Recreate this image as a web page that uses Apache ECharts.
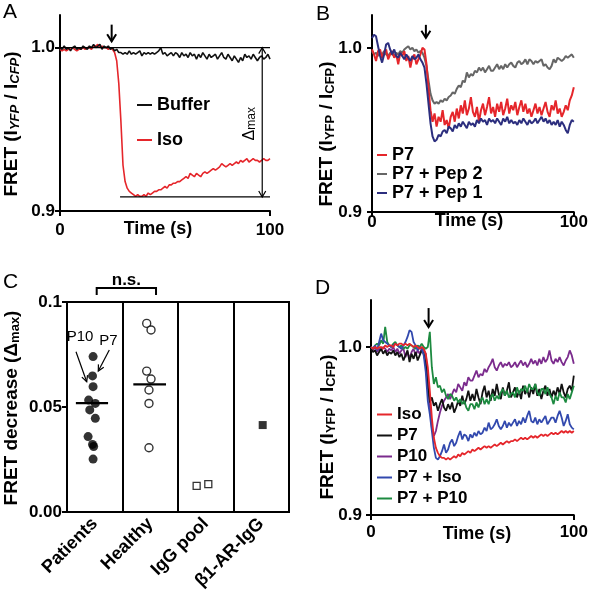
<!DOCTYPE html>
<html><head><meta charset="utf-8">
<script src="https://cdn.jsdelivr.net/npm/echarts@6/dist/echarts.min.js"></script>
<style>html,body{margin:0;padding:0;background:#fff}#c{width:591px;height:594px}</style>
</head><body><div id="c"></div>
<script>
const FONT = 'Liberation Sans, Arial, Helvetica, sans-serif';

// ---------- shared sampling grid (s) ----------
const TIME = [0,1,2,3,4,5,6,7,8,9,10,11,12,13,14,15,16,17,18,19,20,21,22,23,24,25,26,27,28,29,30,31,32,33,34,35,36,37,38,39,40,41,42,43,44,45,46,47,48,49,50,51,52,53,54,55,56,57,58,59,60,61,62,63,64,65,66,67,68,69,70,71,72,73,74,75,76,77,78,79,80,81,82,83,84,85,86,87,88,89,90,91,92,93,94,95,96,97,98,99,100];
const X_TICKS = [0, 100];
const X_LABELS = ['0', '100'];
const Y_TICKS = [0.9, 1.0];
const Y_LABELS = ['0.9', '1.0'];

// ---------- Panel A ----------
const A_BUFFER = [
1.000,0.999,1.001,0.999,1.000,0.998,1.000,1.001,0.999,1.000,
0.999,1.001,1.000,0.999,1.001,1.000,1.002,1.000,1.001,1.002,
0.999,1.001,1.000,1.001,0.999,1.000,0.998,0.999,0.997,0.997,
0.996,0.997,0.996,0.998,0.996,0.997,0.996,0.997,0.998,0.995,
0.997,0.996,0.997,0.996,0.997,0.996,0.997,0.998,1.000,0.996,
0.997,0.995,0.996,0.997,0.995,0.997,0.996,0.994,0.997,0.995,
0.996,0.994,0.997,0.995,0.996,0.993,0.996,0.994,0.997,0.995,
0.993,0.996,0.994,0.995,0.996,0.993,0.995,0.997,0.994,0.993,
0.996,0.994,0.992,0.995,0.993,0.991,0.994,0.992,0.996,0.994,
0.995,0.993,0.996,0.994,0.992,0.994,0.995,0.993,0.994,0.996,
0.993];
const A_ISO = [
0.999,0.998,0.999,0.998,0.999,0.999,1.000,0.999,0.998,0.999,
0.999,1.000,0.999,1.000,1.000,0.999,1.001,1.001,1.002,1.000,
1.001,1.000,1.000,0.999,1.000,0.999,0.997,0.992,0.978,0.955,
0.928,0.918,0.914,0.912,0.911,0.910,0.909,0.910,0.909,0.909,
0.910,0.909,0.911,0.910,0.911,0.912,0.912,0.913,0.913,0.914,
0.915,0.914,0.916,0.916,0.917,0.917,0.918,0.918,0.919,0.920,
0.921,0.920,0.923,0.922,0.921,0.923,0.922,0.921,0.923,0.924,
0.923,0.924,0.925,0.926,0.925,0.926,0.927,0.929,0.928,0.927,
0.928,0.929,0.928,0.929,0.930,0.929,0.931,0.930,0.931,0.932,
0.930,0.931,0.932,0.931,0.931,0.930,0.931,0.932,0.931,0.931,
0.932];
const A_REF_TOP = [[0, 1.0], [100, 1.0]];
const A_REF_BOTTOM = [[28.6, 0.9086], [100, 0.9086]];
const A_DELTA = [[96.3, 1.0], [96.3, 0.9086]];
const A_DELTA_LABEL = [90.5, 0.9534];
const A_STIM = [24.6, 1.0141, 1.0039];

// ---------- Panel B ----------
const B_P7 = [
0.999,0.996,0.992,0.998,0.999,0.994,0.997,0.999,0.993,0.996,
0.998,0.994,0.996,0.990,0.997,0.995,0.998,0.992,0.995,0.988,
0.994,0.996,0.990,0.993,0.996,1.000,0.999,0.990,0.975,0.962,
0.955,0.960,0.952,0.958,0.955,0.962,0.953,0.956,0.951,0.958,
0.961,0.955,0.963,0.957,0.965,0.960,0.968,0.959,0.963,0.970,
0.961,0.958,0.964,0.955,0.962,0.966,0.959,0.964,0.970,0.960,
0.964,0.958,0.966,0.961,0.967,0.959,0.963,0.969,0.960,0.965,
0.962,0.967,0.959,0.964,0.968,0.961,0.966,0.960,0.963,0.958,
0.962,0.966,0.960,0.964,0.959,0.963,0.967,0.961,0.958,0.965,
0.962,0.968,0.960,0.963,0.958,0.961,0.965,0.962,0.968,0.971,
0.976];
const B_PEP2 = [
0.998,0.996,0.997,0.995,0.997,0.996,0.998,0.996,0.995,0.997,
0.996,0.995,0.997,0.996,0.998,0.997,0.999,1.000,1.001,0.999,
1.000,0.998,0.999,0.997,0.998,0.997,0.994,0.989,0.980,0.972,
0.968,0.966,0.967,0.966,0.968,0.967,0.969,0.968,0.970,0.971,
0.973,0.972,0.975,0.977,0.976,0.980,0.979,0.985,0.982,0.984,
0.983,0.986,0.985,0.988,0.986,0.988,0.985,0.987,0.989,0.986,
0.986,0.988,0.990,0.987,0.989,0.987,0.990,0.988,0.990,0.991,
0.989,0.988,0.991,0.992,0.990,0.991,0.993,0.990,0.993,0.992,
0.990,0.992,0.991,0.992,0.993,0.989,0.990,0.988,0.987,0.989,
0.993,0.991,0.994,0.993,0.992,0.993,0.995,0.994,0.995,0.996,
0.994];
const B_PEP1 = [
1.006,1.008,1.007,1.001,0.995,0.991,0.996,1.002,1.003,0.999,
0.996,0.999,0.995,0.994,0.997,0.995,0.993,0.996,0.994,0.992,
0.995,0.993,0.994,0.996,0.993,0.991,0.988,0.978,0.966,0.954,
0.946,0.943,0.944,0.947,0.946,0.949,0.950,0.948,0.952,0.951,
0.949,0.953,0.951,0.954,0.952,0.955,0.953,0.951,0.955,0.953,
0.954,0.952,0.956,0.954,0.957,0.955,0.956,0.953,0.957,0.955,
0.956,0.954,0.957,0.955,0.953,0.957,0.955,0.958,0.954,0.956,
0.954,0.955,0.953,0.956,0.954,0.957,0.955,0.953,0.956,0.954,
0.955,0.957,0.954,0.956,0.958,0.955,0.957,0.954,0.956,0.953,
0.955,0.953,0.956,0.952,0.955,0.953,0.950,0.948,0.953,0.956,
0.955];
const B_STIM = [26.7, 1.014, 1.0061];

// ---------- Panel C ----------
const C_CATEGORIES = ['Patients', 'Healthy', 'IgG pool', 'β1-AR-IgG'];
const C_PAT_X = [0.47,0.46,0.47,0.39,0.51,0.41,0.51,0.38,0.46,0.48,0.47];
const C_PAT_Y = [0.0740,0.0648,0.0597,0.0533,0.0517,0.0486,0.0446,0.0359,0.0322,0.0312,0.0252];
const C_HEA_X = [1.436,1.514,1.436,1.514,1.477,1.477,1.477];
const C_HEA_Y = [0.0898,0.0867,0.0671,0.0633,0.0581,0.0517,0.0306];
const C_IGG_X = [2.336,2.546];
const C_IGG_Y = [0.0124,0.0133];
const C_B1_X = [3.526];
const C_B1_Y = [0.0414];
const C_PAT_MEDIAN = [[0.16, 0.0518], [0.74, 0.0518]];
const C_HEA_MEDIAN = [[1.195, 0.0608], [1.784, 0.0608]];
const C_YTICKS = [0, 0.05, 0.1];
const C_YLABELS = ['0.00', '0.05', '0.1'];
const C_NS = [[0.535, 0.1033], [0.535, 0.1067], [1.604, 0.1067], [1.604, 0.1033]];
const C_NS_LABEL = [1.07, 0.1105];
const C_P10_LABEL = [0.234, 0.0833];
const C_P7_LABEL = [0.748, 0.0814];
const C_P10_ARROW = [[0.162, 0.0763], [0.355, 0.0620]];
const C_P7_ARROW = [[0.762, 0.0771], [0.564, 0.0671]];

// ---------- Panel D ----------
const D_ISO = [
1.000,0.999,1.000,0.999,1.000,1.000,0.999,1.001,1.000,1.001,
1.001,1.000,1.002,1.001,1.002,1.002,1.001,1.002,1.001,1.002,
1.001,1.000,1.001,1.000,0.999,1.000,0.999,0.996,0.988,0.974,
0.958,0.946,0.940,0.937,0.935,0.934,0.934,0.933,0.934,0.933,
0.934,0.935,0.934,0.936,0.935,0.937,0.936,0.937,0.938,0.937,
0.939,0.938,0.939,0.940,0.939,0.940,0.941,0.940,0.941,0.940,
0.941,0.942,0.941,0.942,0.943,0.942,0.943,0.944,0.943,0.944,
0.944,0.945,0.944,0.945,0.946,0.945,0.946,0.945,0.946,0.947,
0.946,0.947,0.946,0.947,0.948,0.947,0.948,0.947,0.948,0.949,
0.948,0.949,0.948,0.949,0.950,0.949,0.950,0.949,0.950,0.949,
0.950];
const D_P7 = [
0.999,0.997,0.998,0.995,0.997,0.999,0.996,0.998,0.995,0.997,
0.996,0.998,0.995,0.997,0.994,0.996,0.992,0.995,0.998,0.991,
0.996,0.993,0.997,0.992,0.995,0.998,0.996,0.990,0.976,0.967,
0.970,0.965,0.967,0.962,0.966,0.969,0.964,0.962,0.966,0.963,
0.967,0.961,0.964,0.968,0.965,0.971,0.966,0.969,0.974,0.968,
0.972,0.968,0.975,0.970,0.966,0.973,0.977,0.970,0.974,0.968,
0.975,0.971,0.978,0.972,0.969,0.976,0.971,0.974,0.979,0.970,
0.973,0.976,0.970,0.974,0.969,0.977,0.972,0.975,0.970,0.976,
0.972,0.978,0.971,0.975,0.969,0.974,0.977,0.971,0.975,0.970,
0.974,0.971,0.976,0.972,0.978,0.973,0.970,0.975,0.977,0.974,
0.983];
const D_P10 = [
0.999,0.998,1.000,0.997,0.999,0.998,1.000,0.999,0.997,0.999,
0.998,1.000,0.997,0.999,0.996,0.998,0.999,0.994,0.997,0.993,
0.997,0.999,0.995,0.998,0.996,0.999,0.998,0.996,0.982,0.965,
0.952,0.947,0.950,0.956,0.961,0.965,0.968,0.970,0.972,0.969,
0.972,0.975,0.973,0.978,0.976,0.974,0.979,0.977,0.982,0.980,
0.980,0.983,0.986,0.982,0.984,0.983,0.987,0.985,0.988,0.990,
0.993,0.988,0.986,0.989,0.991,0.988,0.990,0.989,0.991,0.988,
0.989,0.991,0.988,0.990,0.992,0.989,0.991,0.988,0.990,0.993,
0.990,0.992,0.989,0.993,0.990,0.994,0.991,0.993,0.998,0.992,
0.990,0.993,0.991,0.994,0.991,0.989,0.992,0.994,0.998,0.995,
0.990];
const D_P7ISO = [
1.000,0.999,1.001,0.998,1.003,1.008,1.004,1.003,1.002,1.001,
1.000,1.001,1.002,1.001,1.000,0.999,1.001,1.003,1.006,1.010,
1.009,1.003,1.001,0.998,1.000,0.999,0.995,0.985,0.968,0.960,
0.950,0.940,0.934,0.933,0.935,0.938,0.942,0.937,0.939,0.943,
0.945,0.941,0.943,0.947,0.950,0.945,0.948,0.947,0.944,0.948,
0.946,0.949,0.947,0.950,0.948,0.949,0.952,0.950,0.955,0.951,
0.952,0.954,0.957,0.953,0.951,0.953,0.956,0.952,0.955,0.953,
0.955,0.957,0.953,0.956,0.954,0.958,0.955,0.959,0.962,0.956,
0.955,0.958,0.954,0.957,0.955,0.957,0.959,0.954,0.956,0.958,
0.958,0.955,0.959,0.962,0.958,0.953,0.956,0.960,0.954,0.952,
0.951];
const D_P7P10 = [
1.000,0.999,1.001,1.002,1.001,1.004,1.002,1.012,1.003,1.001,
1.000,1.002,1.003,1.001,1.000,1.001,0.999,1.000,0.999,1.001,
1.001,1.000,0.999,1.001,1.000,1.002,1.000,0.999,1.000,1.009,
0.988,0.978,0.982,0.976,0.977,0.973,0.975,0.971,0.969,0.972,
0.971,0.968,0.970,0.967,0.969,0.966,0.968,0.964,0.962,0.966,
0.966,0.963,0.967,0.964,0.968,0.970,0.966,0.969,0.966,0.970,
0.972,0.968,0.971,0.969,0.973,0.975,0.971,0.974,0.970,0.972,
0.973,0.970,0.976,0.972,0.975,0.974,0.977,0.973,0.978,0.975,
0.975,0.978,0.973,0.971,0.975,0.975,0.972,0.976,0.972,0.970,
0.966,0.971,0.968,0.973,0.970,0.970,0.967,0.972,0.969,0.973,
0.977];
const D_STIM = [28.4, 1.0232, 1.0119];

// ---------- helpers ----------
function lookup(ticks, labels) {
  return function (v) {
    for (let i = 0; i < ticks.length; i++) if (Math.abs(v - ticks[i]) < 1e-9) return labels[i];
    return '';
  };
}
const AX_LINE = { show: true, onZero: false, lineStyle: { color: '#000', width: 2 } };
const TICK_FONT = { fontSize: 17, fontWeight: 'bold', color: '#000', fontFamily: FONT };

function timeAxis(gi, margin) {
  return {
    type: 'value', gridIndex: gi, min: 0, max: 100,
    axisLine: AX_LINE,
    axisTick: { show: true, length: 5, lineStyle: { color: '#000', width: 2 }, customValues: X_TICKS },
    axisLabel: Object.assign({ customValues: X_TICKS, formatter: lookup(X_TICKS, X_LABELS), margin: margin }, TICK_FONT),
    splitLine: { show: false }
  };
}
function fretAxis(gi, max, margin) {
  return {
    type: 'value', gridIndex: gi, min: 0.9, max: max,
    axisLine: AX_LINE,
    axisTick: { show: true, length: 5, lineStyle: { color: '#000', width: 2 }, customValues: Y_TICKS },
    axisLabel: Object.assign({ customValues: Y_TICKS, formatter: lookup(Y_TICKS, Y_LABELS), margin: margin }, TICK_FONT),
    splitLine: { show: false }
  };
}
function trace(name, xi, yi, arr, color, width) {
  return {
    name: name, type: 'line', xAxisIndex: xi, yAxisIndex: yi,
    data: TIME.map(function (t, i) { return [t, arr[i]]; }),
    showSymbol: false, symbol: 'none', smooth: false,
    lineStyle: { color: color, width: width }, itemStyle: { color: color },
    emphasis: { disabled: true }, z: 3
  };
}
function pts(xs, ys) { return xs.map(function (x, i) { return [x, ys[i]]; }); }

const RED = '#e5262b', GRAY = '#666666', NAVY = '#2c2e7e';
const D_BLACK = '#111111', PURPLE = '#7b2b8d', BLUE = '#3249ae', GREEN = '#1d8a40';

function legendCfg(names, left, top, iw, gap, fs) {
  return {
    data: names, left: left, top: top, orient: 'vertical', icon: 'rect',
    itemWidth: iw, itemHeight: 2, itemGap: gap, selectedMode: false, padding: 0,
    formatter: function (n) { return n.slice(2); },
    textStyle: { fontSize: fs, fontWeight: 'bold', color: '#000', fontFamily: FONT }
  };
}

const chart = echarts.init(document.getElementById('c'), null, { renderer: 'canvas' });
const option = {
  animation: false,
  backgroundColor: '#fff',
  textStyle: { fontFamily: FONT },
  grid: [
    { left: 60, top: 15, width: 210, height: 196 },
    { left: 372, top: 15, width: 210, height: 197 },
    { left: 67, top: 302, width: 222, height: 210, show: true, borderColor: '#000', borderWidth: 2, backgroundColor: 'transparent' },
    { left: 371, top: 300, width: 211, height: 215 }
  ],
  xAxis: [
    timeAxis(0, 11),
    timeAxis(1, 2),
    {
      type: 'category', gridIndex: 2, data: C_CATEGORIES, boundaryGap: true,
      axisLine: AX_LINE, axisTick: { show: false },
      splitLine: { show: true, lineStyle: { color: '#000', width: 2 } },
      axisLabel: { rotate: 45, margin: 9, interval: 0, fontSize: 18, fontWeight: 'bold', color: '#000', fontFamily: FONT }
    },
    { type: 'value', gridIndex: 2, min: 0, max: 4, show: false },
    timeAxis(3, 9)
  ],
  yAxis: [
    fretAxis(0, 1.02, 5),
    fretAxis(1, 1.02, 10),
    {
      type: 'value', gridIndex: 2, min: 0, max: 0.1,
      axisLine: AX_LINE,
      axisTick: { show: true, length: 5, lineStyle: { color: '#000', width: 2 }, customValues: C_YTICKS },
      axisLabel: Object.assign({ customValues: C_YTICKS, formatter: lookup(C_YTICKS, C_YLABELS), margin: 5 }, TICK_FONT),
      splitLine: { show: false }
    },
    fretAxis(3, 1.028, 9)
  ],
  legend: [
    legendCfg(['A:Buffer', 'A:Iso'], 137, 96, 15, 17, 18),
    legendCfg(['B:P7', 'B:P7 + Pep 2', 'B:P7 + Pep 1'], 377, 146, 10, 1, 18),
    legendCfg(['D:Iso', 'D:P7', 'D:P10', 'D:P7 + Iso', 'D:P7 + P10'], 377, 406, 15, 4, 17)
  ],
  series: [
    trace('A:Iso', 0, 0, A_ISO, RED, 1.6),
    trace('A:Buffer', 0, 0, A_BUFFER, '#111111', 1.6),
    trace('B:P7 + Pep 2', 1, 1, B_PEP2, GRAY, 2),
    trace('B:P7', 1, 1, B_P7, RED, 2),
    trace('B:P7 + Pep 1', 1, 1, B_PEP1, NAVY, 2),
    trace('D:P10', 4, 3, D_P10, PURPLE, 1.8),
    trace('D:P7', 4, 3, D_P7, D_BLACK, 1.8),
    trace('D:P7 + P10', 4, 3, D_P7P10, GREEN, 1.8),
    trace('D:P7 + Iso', 4, 3, D_P7ISO, BLUE, 1.8),
    trace('D:Iso', 4, 3, D_ISO, RED, 1.8),
    { name: 'C:Patients', type: 'scatter', xAxisIndex: 3, yAxisIndex: 2, data: pts(C_PAT_X, C_PAT_Y),
      symbol: 'circle', symbolSize: 9, itemStyle: { color: '#000' }, z: 4 },
    { name: 'C:Healthy', type: 'scatter', xAxisIndex: 3, yAxisIndex: 2, data: pts(C_HEA_X, C_HEA_Y),
      symbol: 'circle', symbolSize: 8, itemStyle: { color: '#fff', borderColor: '#000', borderWidth: 1.4 }, z: 4 },
    { name: 'C:IgG pool', type: 'scatter', xAxisIndex: 3, yAxisIndex: 2, data: pts(C_IGG_X, C_IGG_Y),
      symbol: 'rect', symbolSize: 7, itemStyle: { color: '#fff', borderColor: '#000', borderWidth: 1.3 }, z: 4 },
    { name: 'C:b1', type: 'scatter', xAxisIndex: 3, yAxisIndex: 2, data: pts(C_B1_X, C_B1_Y),
      symbol: 'rect', symbolSize: 8, itemStyle: { color: '#000' }, z: 4 },
    { name: 'C:m1', type: 'line', xAxisIndex: 3, yAxisIndex: 2, data: C_PAT_MEDIAN, showSymbol: false, symbol: 'none',
      lineStyle: { color: '#000', width: 2.2 }, z: 5 },
    { name: 'C:m2', type: 'line', xAxisIndex: 3, yAxisIndex: 2, data: C_HEA_MEDIAN, showSymbol: false, symbol: 'none',
      lineStyle: { color: '#000', width: 2.2 }, z: 5 }
  ]
};
chart.setOption(option);

// ---------- annotations (placed through the axes) ----------
const fA = { xAxisIndex: 0, yAxisIndex: 0 }, fB = { xAxisIndex: 1, yAxisIndex: 1 };
const fC = { xAxisIndex: 3, yAxisIndex: 2 }, fD = { xAxisIndex: 4, yAxisIndex: 3 };
function P(f, p) { return chart.convertToPixel(f, p); }
function seg(a, b, w) {
  return { type: 'line', shape: { x1: a[0], y1: a[1], x2: b[0], y2: b[1] }, style: { stroke: '#000', lineWidth: w }, z: 50 };
}
function head(tail, tip, w, hl, hw) {
  const dx = tip[0] - tail[0], dy = tip[1] - tail[1], L = Math.hypot(dx, dy), ux = dx / L, uy = dy / L;
  const bx = tip[0] - ux * hl, by = tip[1] - uy * hl;
  return { type: 'polyline', shape: { points: [[bx - uy * hw, by + ux * hw], [tip[0], tip[1]], [bx + uy * hw, by - ux * hw]] },
    style: { stroke: '#000', lineWidth: w, fill: null }, z: 50 };
}
function txt(x, y, text, fs, fw, extra) {
  return Object.assign({ type: 'text', x: x, y: y, z: 60,
    style: { text: text, fontSize: fs, fontWeight: fw, fontFamily: FONT, fill: '#000', align: 'center', verticalAlign: 'middle' } }, extra || {});
}
function stim(f, s) {
  const a = P(f, [s[0], s[1]]), b = P(f, [s[0], s[2]]);
  return [seg(a, b, 2), head(a, b, 2, 7, 4.5)];
}
function fretTitle(x, y, italic) {
  return {
    type: 'text', x: x, y: y, rotation: Math.PI / 2, z: 60,
    style: {
      text: '{m|FRET (I}{s|YFP}{m| / I}{s|CFP}{m|)}', align: 'center', verticalAlign: 'middle', fill: '#000',
      rich: {
        m: { fontSize: 19, fontWeight: 'bold', fontFamily: FONT, fill: '#000' },
        s: { fontSize: 13, fontWeight: 'bold', fontStyle: italic ? 'italic' : 'normal', fontFamily: FONT, fill: '#000', lineHeight: 7, verticalAlign: 'bottom' }
      }
    }
  };
}

const g = [];
// Panel A
const rt0 = P(fA, A_REF_TOP[0]), rt1 = P(fA, A_REF_TOP[1]);
g.push(seg(rt0, rt1, 1.2));
const rb0 = P(fA, A_REF_BOTTOM[0]), rb1 = P(fA, A_REF_BOTTOM[1]);
g.push(seg(rb0, rb1, 1.2));
const d0 = P(fA, A_DELTA[0]), d1 = P(fA, A_DELTA[1]);
g.push(seg(d0, d1, 1.2), head(d1, d0, 1.2, 6, 3.5), head(d0, d1, 1.2, 6, 3.5));
const dl = P(fA, A_DELTA_LABEL);
g.push({ type: 'text', x: dl[0], y: dl[1], rotation: Math.PI / 2, z: 60,
  style: { text: '{m|Δ}{s|max}', align: 'center', verticalAlign: 'middle', fill: '#000',
    rich: { m: { fontSize: 16, fontFamily: FONT, fill: '#000' },
            s: { fontSize: 12, fontFamily: FONT, fill: '#000', lineHeight: 6, verticalAlign: 'bottom' } } } });
g.push.apply(g, stim(fA, A_STIM));
g.push.apply(g, stim(fB, B_STIM));
g.push.apply(g, stim(fD, D_STIM));
// Panel C
const ns = C_NS.map(function (p) { return P(fC, p); });
g.push({ type: 'polyline', shape: { points: ns }, style: { stroke: '#000', lineWidth: 2, fill: null }, z: 50 });
const nsl = P(fC, C_NS_LABEL);
g.push(txt(nsl[0], nsl[1], 'n.s.', 17, 'bold'));
const p10 = P(fC, C_P10_LABEL), p7 = P(fC, C_P7_LABEL);
g.push(txt(p10[0], p10[1], 'P10', 15, 'normal'), txt(p7[0], p7[1], 'P7', 15, 'normal'));
const a10a = P(fC, C_P10_ARROW[0]), a10b = P(fC, C_P10_ARROW[1]);
g.push(seg(a10a, a10b, 1.2), head(a10a, a10b, 1.2, 6, 3));
const a7a = P(fC, C_P7_ARROW[0]), a7b = P(fC, C_P7_ARROW[1]);
g.push(seg(a7a, a7b, 1.2), head(a7a, a7b, 1.2, 6, 3));
// axis titles
g.push(fretTitle(12, 124, true), fretTitle(327, 134, false), fretTitle(328, 427, false));
g.push({ type: 'text', x: 12, y: 408, rotation: Math.PI / 2, z: 60,
  style: { text: '{m|FRET decrease (Δ}{s|max}{m|)}', align: 'center', verticalAlign: 'middle', fill: '#000',
    rich: { m: { fontSize: 19, fontWeight: 'bold', fontFamily: FONT, fill: '#000' },
            s: { fontSize: 13, fontWeight: 'bold', fontFamily: FONT, fill: '#000', lineHeight: 7, verticalAlign: 'bottom' } } } });
g.push(txt(158, 229, 'Time (s)', 18, 'bold'), txt(469, 221, 'Time (s)', 18, 'bold'), txt(477, 534, 'Time (s)', 18, 'bold'));
// panel letters
function letter(x, y, s) { return { type: 'text', x: x, y: y, z: 60, style: { text: s, fontSize: 21, fontFamily: FONT, fill: '#000', align: 'left', verticalAlign: 'top' } }; }
g.push(letter(3, 2, 'A'), letter(316, 4, 'B'), letter(3, 272, 'C'), letter(315, 278, 'D'));

chart.setOption({ graphic: g });
</script>
</body></html>
